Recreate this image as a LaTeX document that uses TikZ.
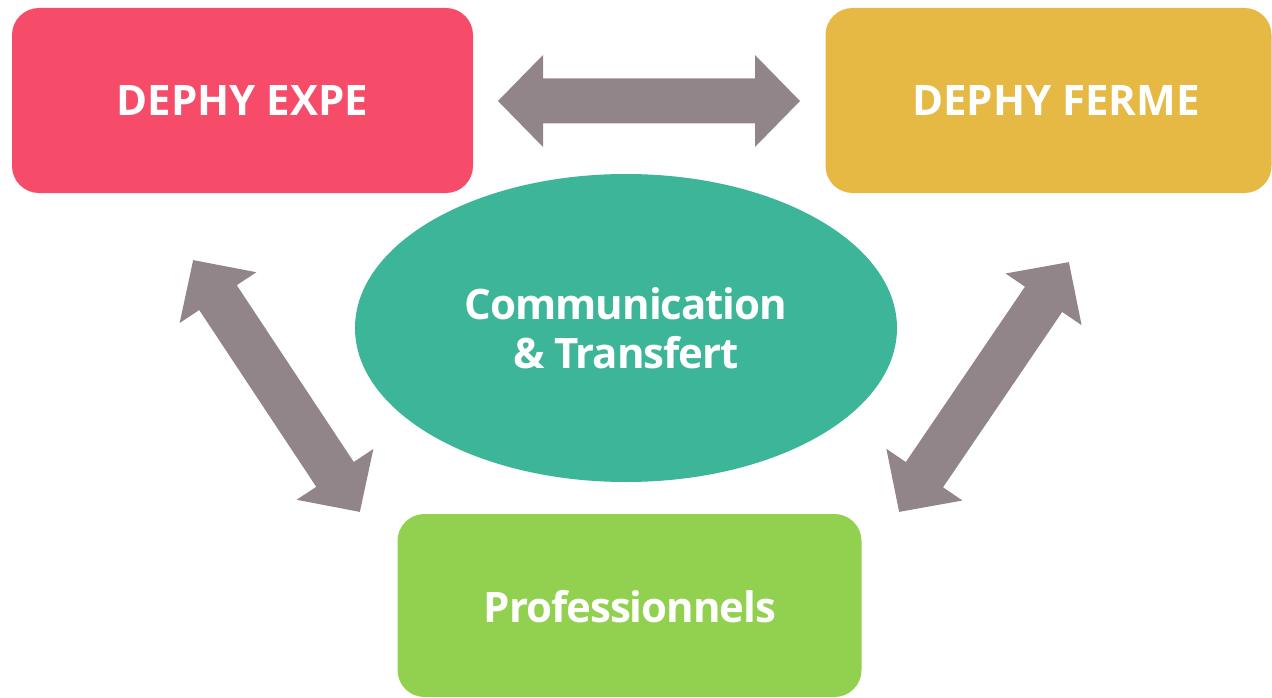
\documentclass[tikz,border=0pt]{standalone}
\usepackage{fontspec}
\setmainfont{Open Sans}
\newfontfamily\tightfont{Open Sans}[LetterSpace=-2.5]
\usetikzlibrary{shapes.geometric}
\definecolor{cexpe}{HTML}{F64C69}
\definecolor{cferme}{HTML}{E5B944}
\definecolor{cpro}{HTML}{92D050}
\definecolor{ccom}{HTML}{3DB598}
\definecolor{carrow}{HTML}{928589}
\tikzset{
  box/.style={rectangle, rounded corners=27pt, inner sep=0pt, text=white,
    font=\bfseries\fontsize{42}{47}\selectfont},
  oval/.style={ellipse, inner sep=0pt, text=white, align=center,
    font=\tightfont\bfseries\fontsize{42}{49}\selectfont},
  blockarrow/.style={fill=carrow, draw=none},
}
\newcommand{\dblarrow}{(-151,0) -- (-106,46) -- (-106,22.5) -- (106,22.5) -- (106,46) -- (151,0) -- (106,-46) -- (106,-22.5) -- (-106,-22.5) -- (-106,-46) -- cycle}
\begin{document}
\begin{tikzpicture}[x=1pt,y=-1pt]
\useasboundingbox (0,0) rectangle (1272,698);
\node[box, fill=cexpe, minimum width=461pt, minimum height=185pt] (expe) at (242.5,100.5) {DEPHY EXPE};
\begin{scope}
\clip (0,0) rectangle (1272,698);
\node[box, fill=cferme, minimum width=446pt, minimum height=185pt] (ferme) at (1048.5,100.5) {};
\node[box, fill=cpro, minimum width=464pt, minimum height=183pt] (pro) at (629.5,605.5) {};
\end{scope}
\node[text=white, font=\bfseries\fontsize{42}{47}\selectfont] (fermetxt) at (1056,100.5) {DEPHY FERME};
\node[text=white, font=\tightfont\bfseries\fontsize{42}{47}\selectfont] (protxt) at (630,607) {Professionnels};
\node[oval, fill=ccom, minimum width=542pt, minimum height=308pt] (com) at (626,328) {Communication\\\& Transfert};
\fill[blockarrow, shift={(649,101)}] \dblarrow;
\fill[blockarrow, shift={(276.5,386)}, rotate=-56.5] \dblarrow;
\fill[blockarrow, shift={(984,387)}, rotate=55.8] \dblarrow;
\end{tikzpicture}
\end{document}
